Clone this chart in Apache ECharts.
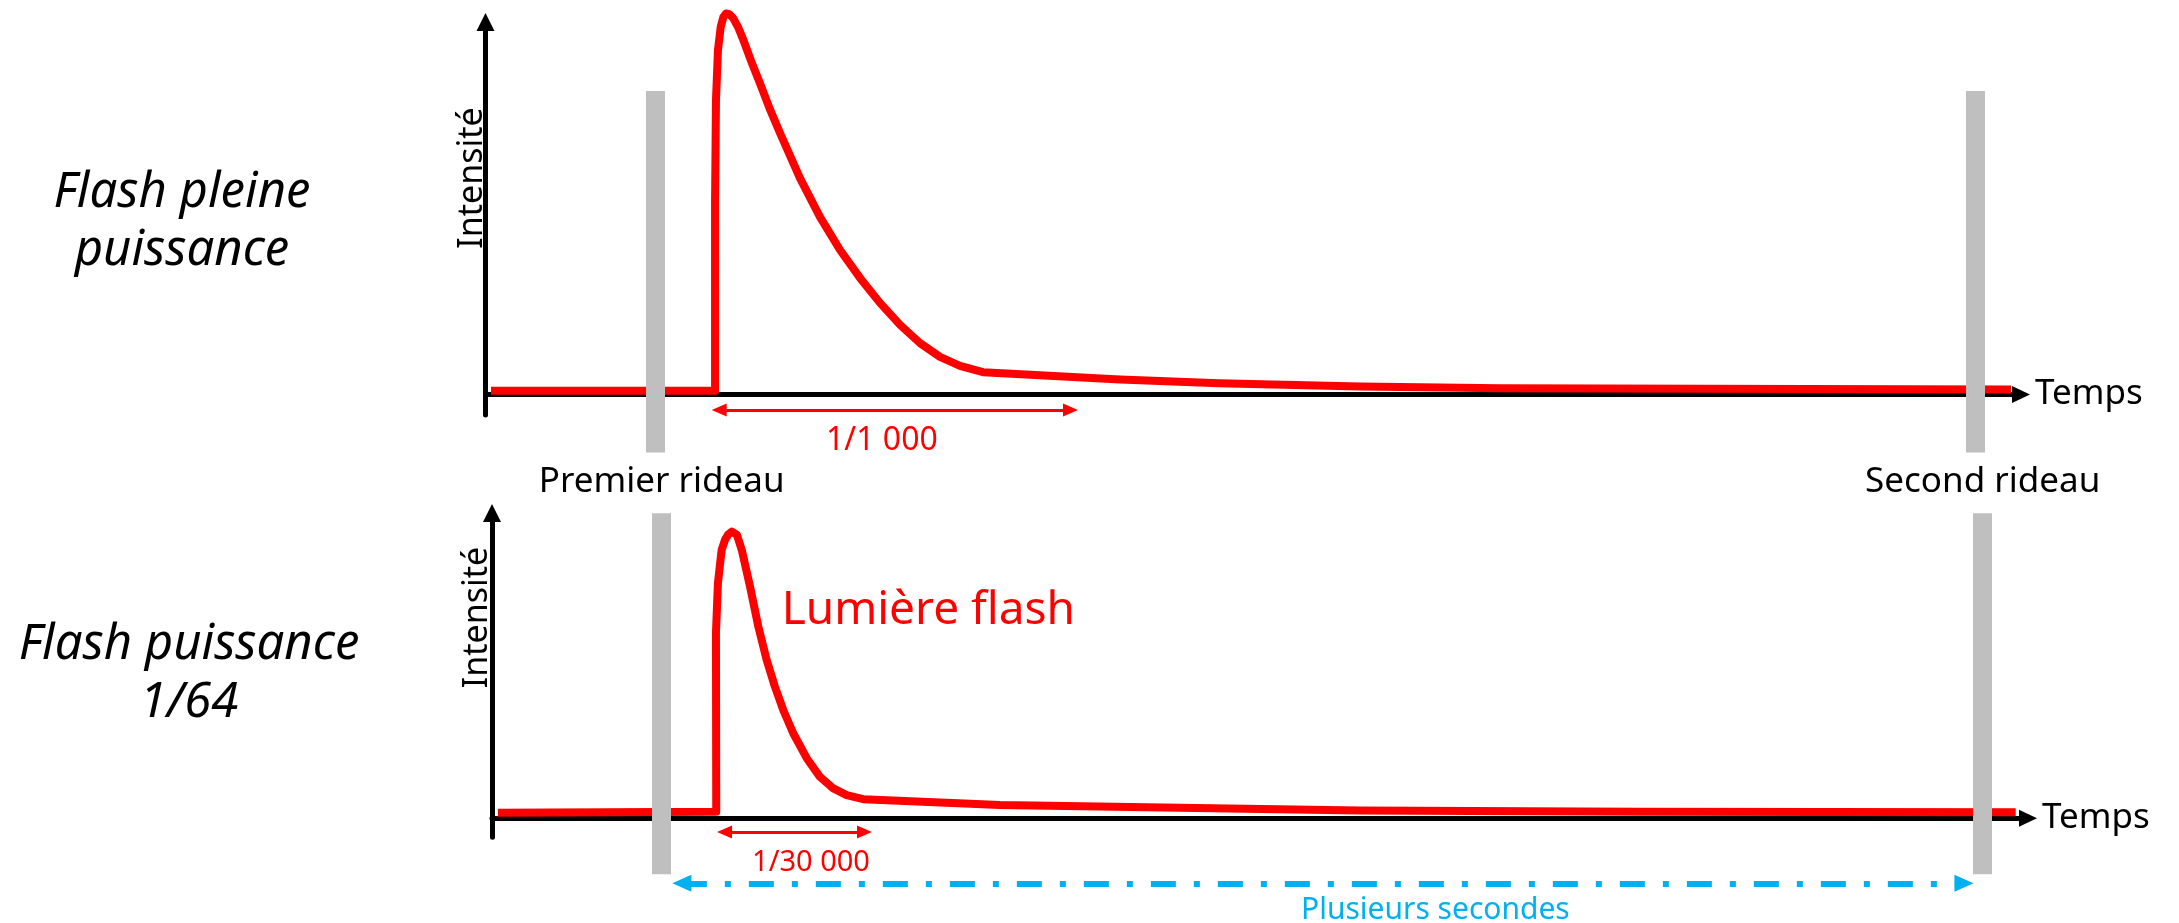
<!DOCTYPE html>
<html>
<head>
<meta charset="UTF-8">
<title>Flash et rideaux</title>
<script src="https://cdn.jsdelivr.net/npm/echarts@6/dist/echarts.min.js"></script>
<style>
  html, body { margin: 0; background: #fff; }
  #main { width: 2179px; height: 923px; }
</style>
</head>
<body>
<div id="main"></div>
<script>
  // temps en unités arbitraires (0 = origine, 100 = pointe de la flèche), intensité arbitraire
  const fullTime = [0.36, 14.95, 14.95, 15.01, 15.14, 15.32, 15.49, 15.66, 15.87, 16.14, 16.44, 16.79,
    17.3, 17.88, 18.5, 19.18, 20.48, 21.78, 23.09, 24.39, 25.69, 27.0, 28.3, 29.6, 30.9, 32.4,
    41.32, 47.77, 56.95, 66.07, 99.35];
  const fullLevel = [1.0, 1.0, 52, 79.1, 92.5, 98.7, 101.3, 102.3, 102.1, 101.0, 98.7, 95.2,
    89.5, 83.5, 76.8, 70.2, 58.1, 47.7, 38.8, 31.3, 24.6, 18.7, 13.8, 10.1, 7.7, 6.0,
    4.03, 3.01, 2.15, 1.66, 1.34];

  const lowTime = [0.39, 14.6, 14.58, 14.71, 14.95, 15.17, 15.38, 15.61, 15.95, 16.26, 16.8, 17.34, 17.88,
    18.42, 18.96, 19.62, 20.49, 21.35, 22.22, 23.09, 24.17, 33.07, 56.5, 74.7, 99.2];
  const lowLevel = [1.85, 2.15, 60.7, 77.1, 87.9, 91.2, 93.0, 93.9, 92.8, 87.9, 75.9, 62.8, 51.9,
    43.1, 35.5, 27.8, 19.7, 13.6, 9.8, 7.6, 6.3, 4.36, 2.6, 2.2, 1.97];

  const curtainTimes = [11.05, 97.05];
  const curtainNames = ['Premier rideau', 'Second rideau'];
  const topCurtainSpan = [-15.6, 81.5];
  const lowCurtainSpan = [-18.3, 99.9];

  // durées mesurées : [début, fin, hauteur de la flèche]
  const fullDuration = [15.22, 38.10, -4.16];
  const lowDuration = [15.14, 24.25, -4.49];
  const exposure = [12.36, 95.83, -21.3];

  const fullLabel = '1/1 000';
  const lowLabel = '1/30 000';
  const exposureLabel = 'Plusieurs secondes';

  const RED = '#ff0000';
  const GREY = '#bfbfbf';
  const BLUE = '#00b0f0';
  const FONT = '"Noto Sans", "Open Sans", sans-serif';

  const zip = (xs, ys) => xs.map((x, i) => [x, ys[i]]);

  function visibleAxes(min) {
    return {
      x: {
        type: 'value', min: 0, max: 100,
        axisLine: { onZero: true, symbol: ['none', 'triangle'], symbolSize: [17, 18], lineStyle: { color: '#000', width: 5 } },
        axisTick: { show: false }, axisLabel: { show: false }, splitLine: { show: false },
        name: 'Temps', nameLocation: 'end', nameGap: 14,
        nameTextStyle: { color: '#000', fontSize: 35, fontFamily: FONT, padding: [14, 0, 0, 0] }
      },
      y: {
        type: 'value', min: min, max: 100,
        axisLine: { onZero: true, symbol: ['none', 'triangle'], symbolSize: [18, 18], lineStyle: { color: '#000', width: 5 } },
        axisTick: { show: false }, axisLabel: { show: false }, splitLine: { show: false }
      }
    };
  }
  function hiddenAxes(min) {
    return {
      x: { type: 'value', min: 0, max: 100, show: false },
      y: { type: 'value', min: min, max: 100, show: false }
    };
  }

  const topMain = visibleAxes(-5.5);
  const topOver = hiddenAxes(-17.6);
  const lowMain = visibleAxes(-6.2);
  const lowOver = hiddenAxes(-34.3);

  function curtainLines(span, withLabel) {
    return {
      silent: true, animation: false,
      symbol: 'none',
      lineStyle: { color: GREY, width: 19, type: 'solid' },
      label: {
        show: withLabel, position: 'end', distance: 14, formatter: '{b}',
        color: '#000', fontSize: 35, fontFamily: FONT
      },
      data: curtainTimes.map((t, i) => [
        { coord: [t, span[0]], name: curtainNames[i] },
        { coord: [t, span[1]] }
      ])
    };
  }

  function durationLine(d, text, color, width, size, lineType, fontSize, dist, pad) {
    return {
      silent: true, animation: false,
      symbol: ['triangle', 'triangle'], symbolSize: size,
      lineStyle: { color: color, width: width, type: lineType },
      label: {
        show: true, position: 'insideMiddleBottom', distance: dist, formatter: text,
        color: color, fontSize: fontSize, fontFamily: FONT, padding: pad
      },
      data: [[{ coord: [d[0], d[2]] }, { coord: [d[1], d[2]] }]]
    };
  }

  const chart = echarts.init(document.getElementById('main'));
  chart.setOption({
    animation: false,
    backgroundColor: '#fff',
    grid: [
      { left: 485.5, top: 22, width: 1535.5, height: 393 },
      { left: 485.5, top: 22, width: 1535.5, height: 438 },
      { left: 492, top: 513, width: 1536, height: 324.3 },
      { left: 492, top: 513, width: 1536, height: 410 }
    ],
    xAxis: [
      Object.assign({ gridIndex: 0 }, topMain.x),
      Object.assign({ gridIndex: 1 }, topOver.x),
      Object.assign({ gridIndex: 2 }, lowMain.x),
      Object.assign({ gridIndex: 3 }, lowOver.x)
    ],
    yAxis: [
      Object.assign({ gridIndex: 0 }, topMain.y),
      Object.assign({ gridIndex: 1 }, topOver.y),
      Object.assign({ gridIndex: 2 }, lowMain.y),
      Object.assign({ gridIndex: 3 }, lowOver.y)
    ],
    series: [
      {
        name: 'Flash pleine puissance', type: 'line', xAxisIndex: 0, yAxisIndex: 0,
        data: zip(fullTime, fullLevel), showSymbol: false, symbol: 'none', clip: false,
        lineStyle: { color: RED, width: 8, join: 'round' },
        markLine: durationLine(fullDuration, fullLabel, RED, 3, [13, 15], 'solid', 32, 15, [0, 26, 0, 0])
      },
      {
        type: 'line', xAxisIndex: 1, yAxisIndex: 1, data: [], z: 10,
        markLine: curtainLines(topCurtainSpan, false)
      },
      {
        name: 'Flash puissance 1/64', type: 'line', xAxisIndex: 2, yAxisIndex: 2,
        data: zip(lowTime, lowLevel), showSymbol: false, symbol: 'none', clip: false,
        lineStyle: { color: RED, width: 8, join: 'round' },
        markLine: durationLine(lowDuration, lowLabel, RED, 3, [13, 15], 'solid', 29, 16, [0, 0, 0, 33])
      },
      {
        type: 'line', xAxisIndex: 3, yAxisIndex: 3, data: [], z: 10,
        markLine: curtainLines(lowCurtainSpan, true)
      },
      {
        type: 'line', xAxisIndex: 3, yAxisIndex: 3, data: [], z: 10,
        markLine: durationLine(exposure, exposureLabel, BLUE, 6, [17, 19], [25, 18, 6, 18], 30, 12, [0, 0, 0, 225])
      }
    ],
    graphic: [
      { type: 'text', x: 182, y: 222, style: { text: 'Flash pleine\npuissance', font: 'italic 49px ' + FONT, fill: '#000', textAlign: 'center', textVerticalAlign: 'middle', lineHeight: 58 } },
      { type: 'text', x: 189, y: 674, style: { text: 'Flash puissance\n1/64', font: 'italic 49px ' + FONT, fill: '#000', textAlign: 'center', textVerticalAlign: 'middle', lineHeight: 58 } },
      { type: 'text', x: 472, y: 178, rotation: Math.PI / 2, style: { text: 'Intensité', font: '34px ' + FONT, fill: '#000', textAlign: 'center', textVerticalAlign: 'middle' } },
      { type: 'text', x: 477, y: 617.5, rotation: Math.PI / 2, style: { text: 'Intensité', font: '34px ' + FONT, fill: '#000', textAlign: 'center', textVerticalAlign: 'middle' } },
      { type: 'text', x: 781.7, y: 611, style: { text: 'Lumière flash', font: '46px ' + FONT, fill: RED, textAlign: 'left', textVerticalAlign: 'middle' } }
    ]
  });
</script>
</body>
</html>
